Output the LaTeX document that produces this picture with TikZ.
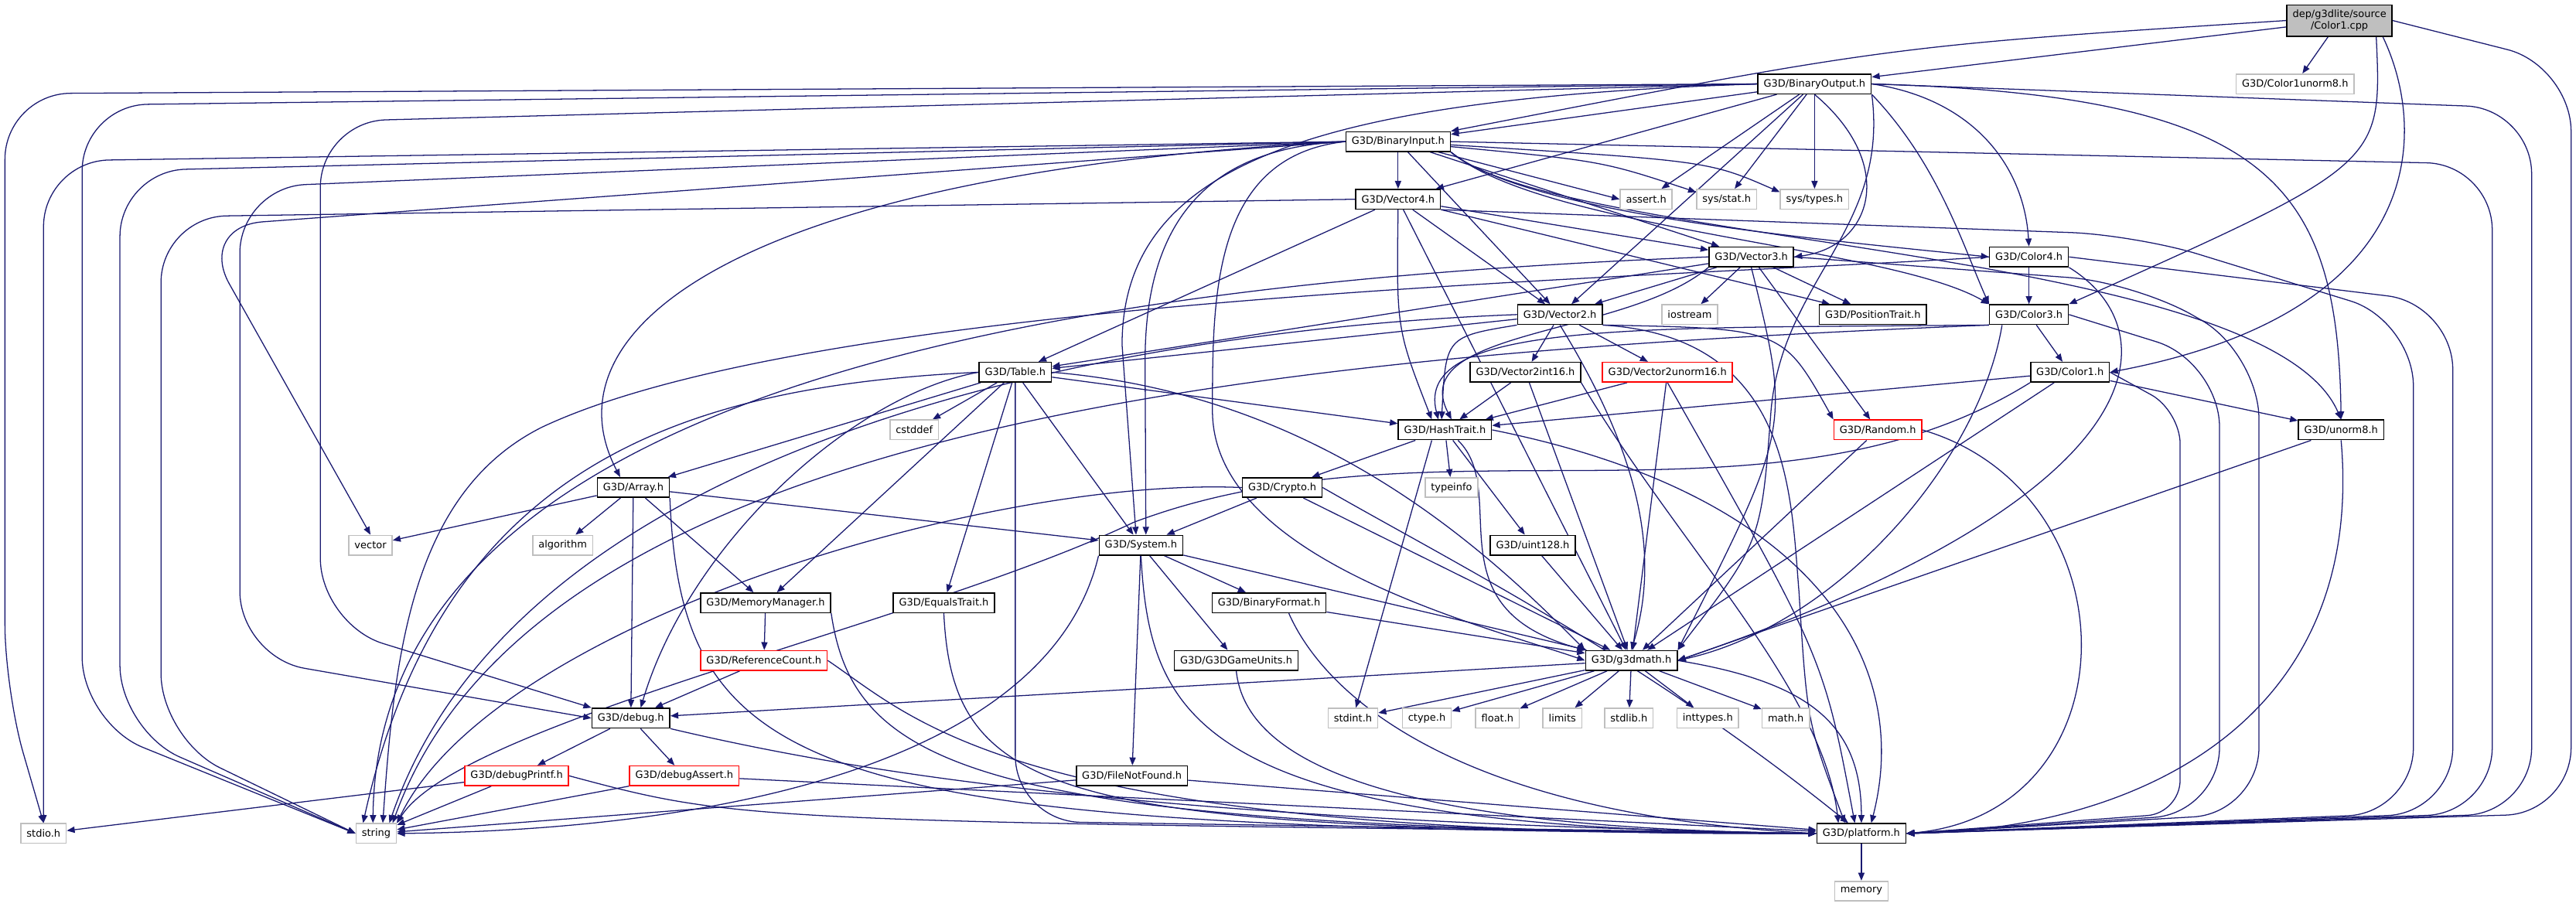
\documentclass[tikz,border=0pt]{standalone}
\usepackage{fontspec}
\newfontfamily\hdrfont{DejaVu Sans}
\usetikzlibrary{arrows.meta}
\definecolor{edgeblue}{HTML}{191970}
\definecolor{boxgray}{HTML}{BFBFBF}
\pgfdeclarelayer{edges}
\pgfsetlayers{edges,main}
\tikzset{
  hdr/.style={draw=black, fill=white, line width=0.75pt, inner xsep=3.5pt, inner ysep=0pt,
    minimum height=12pt, font=\hdrfont\fontsize{6.1pt}{7.2pt}\selectfont},
  syshdr/.style={hdr, draw=boxgray},
  nodoc/.style={hdr, draw=red},
  srcfile/.style={hdr, fill=boxgray, align=center, minimum height=19pt},
  inc/.style={draw=edgeblue, line width=0.6pt, -{Triangle[length=4.8pt,width=3.8pt]}},
  lane/.style={inc, rounded corners=40pt},
}
\begin{document}
\begin{tikzpicture}[x=1pt,y=1pt]
  \useasboundingbox (0,0) rectangle (1568,-551.7);
  % files, one rank after the other
  \node[srcfile] (cpp) at (1424,-12.5) {dep/g3dlite/source\\/Color1.cpp};
  \node[hdr] (bout) at (1104.5,-51.1) {G3D/BinaryOutput.h};
  \node[syshdr] (c1u8) at (1397,-51.1) {G3D/Color1unorm8.h};
  \node[hdr] (bin) at (851,-86.2) {G3D/BinaryInput.h};
  \node[hdr] (vec4) at (851,-121.3) {G3D/Vector4.h};
  \node[syshdr] (assert) at (1002,-121.3) {assert.h};
  \node[syshdr] (sysstat) at (1051,-121.3) {sys/stat.h};
  \node[syshdr] (systypes) at (1104.5,-121.3) {sys/types.h};
  \node[hdr] (vec3) at (1066,-156.4) {G3D/Vector3.h};
  \node[hdr] (col4) at (1235,-156.4) {G3D/Color4.h};
  \node[hdr] (vec2) at (949.5,-191.5) {G3D/Vector2.h};
  \node[syshdr] (iostream) at (1028.5,-191.5) {iostream};
  \node[hdr] (postrait) at (1140,-191.5) {G3D/PositionTrait.h};
  \node[hdr] (col3) at (1235,-191.5) {G3D/Color3.h};
  \node[hdr] (table) at (618,-226.6) {G3D/Table.h};
  \node[hdr] (v2i16) at (928.5,-226.6) {G3D/Vector2int16.h};
  \node[nodoc] (v2u16) at (1015,-226.6) {G3D/Vector2unorm16.h};
  \node[hdr] (col1) at (1260,-226.6) {G3D/Color1.h};
  \node[syshdr] (cstddef) at (556.5,-261.7) {cstddef};
  \node[hdr] (hash) at (879.5,-261.7) {G3D/HashTrait.h};
  \node[nodoc] (random) at (1143,-261.7) {G3D/Random.h};
  \node[hdr] (unorm8) at (1425,-261.7) {G3D/unorm8.h};
  \node[hdr] (array) at (385.5,-296.8) {G3D/Array.h};
  \node[hdr] (crypto) at (780.5,-296.8) {G3D/Crypto.h};
  \node[syshdr] (typeinfo) at (883.5,-296.8) {typeinfo};
  \node[syshdr] (vector) at (225.5,-331.9) {vector};
  \node[syshdr] (algorithm) at (342.5,-331.9) {algorithm};
  \node[hdr] (system) at (694.5,-331.9) {G3D/System.h};
  \node[hdr] (uint128) at (933,-331.9) {G3D/uint128.h};
  \node[hdr] (memmgr) at (466,-367) {G3D/MemoryManager.h};
  \node[hdr] (equals) at (574.5,-367) {G3D/EqualsTrait.h};
  \node[hdr] (binfmt) at (772.5,-367) {G3D/BinaryFormat.h};
  \node[nodoc] (refcount) at (465,-402.1) {G3D/ReferenceCount.h};
  \node[hdr] (units) at (752.5,-402.1) {G3D/G3DGameUnits.h};
  \node[hdr] (g3dmath) at (993,-402.1) {G3D/g3dmath.h};
  \node[hdr] (debug) at (384,-437.2) {G3D/debug.h};
  \node[syshdr] (stdint) at (823.5,-437.2) {stdint.h};
  \node[syshdr] (ctype) at (868.5,-437.2) {ctype.h};
  \node[syshdr] (float) at (911.5,-437.2) {float.h};
  \node[syshdr] (limits) at (951,-437.2) {limits};
  \node[syshdr] (stdlib) at (991.5,-437.2) {stdlib.h};
  \node[syshdr] (inttypes) at (1039.5,-437.2) {inttypes.h};
  \node[syshdr] (math) at (1087,-437.2) {math.h};
  \node[nodoc] (dprintf) at (314.5,-472.3) {G3D/debugPrintf.h};
  \node[nodoc] (dassert) at (416.5,-472.3) {G3D/debugAssert.h};
  \node[hdr] (filenf) at (689,-472.3) {G3D/FileNotFound.h};
  \node[syshdr] (stdio) at (26.5,-507.4) {stdio.h};
  \node[syshdr] (string) at (229,-507.4) {string};
  \node[hdr] (platform) at (1133,-507.4) {G3D/platform.h};
  \node[syshdr] (memory) at (1133,-542.5) {memory};

  \begin{pgfonlayer}{edges}
  % Color1.cpp
  \draw[inc] (cpp) -- (bout);
  \draw[inc] (cpp.west) .. controls (1150,-28) .. (bin.north east);
  \draw[inc] (cpp) -- (c1u8);
  \draw[inc] ([xshift=-10pt]cpp.south east) .. controls (1450,-100) .. (col3.north east);
  \draw[inc] ([xshift=-6pt]cpp.south east) .. controls (1478,-80) and (1478,-190) .. (col1.east);
  \draw[lane] (cpp.east) -- (1565,-40) -- (1565,-495) -- (platform.east);
  % BinaryOutput.h
  \draw[inc] (bout) -- (bin);
  \draw[lane] (bout.west) -- (3,-57) -- (3,-420) -- (stdio.north);
  \draw[lane] (bout.west) -- (50,-64) -- (50,-440) -- (string.west);
  \draw[lane] (bout.west) -- (195,-74) -- (195,-380) -- (debug.north west);
  \draw[inc] (bout.west) .. controls (800,-60) and (683,-100) .. (683,-210) -- ([xshift=-3pt]system.north);
  \draw[inc] (bout) -- (vec4);
  \draw[inc] (bout.south) .. controls (1155,-100) and (1140,-150) .. (vec3.east);
  \draw[inc] (bout) -- (vec2);
  \draw[inc] (bout.east) .. controls (1200,-60) and (1232,-100) .. (col4.north);
  \draw[inc] (bout.south east) .. controls (1180,-100) and (1195,-150) .. (col3.north west);
  \draw[inc] (bout) -- (assert);
  \draw[inc] (bout) -- (sysstat);
  \draw[inc] (bout) -- (systypes);
  \draw[inc] (bout.south east) .. controls (1150,-140) and (1085,-170) .. (1078,-250) .. controls (1072,-330) .. (g3dmath.north east);
  \draw[inc] (bout.east) .. controls (1380,-58) and (1423,-110) .. (unorm8.north);
  \draw[lane] (bout.east) -- (1541,-66) -- (1541,-495) -- (platform.east);
  % BinaryInput.h
  \draw[lane] (bin.west) -- (26.5,-98) -- (stdio.north);
  \draw[lane] (bin.west) -- (73,-104) -- (73,-445) -- (string.west);
  \draw[lane] (bin.west) -- (120,-138) -- (vector.north);
  \draw[lane] (bin.west) -- (146,-114) -- (146,-400) -- (debug.west);
  \draw[inc] (bin.west) .. controls (450,-105) and (330,-200) .. ([xshift=-8pt]array.north);
  \draw[inc] (bin.west) .. controls (730,-90) and (697,-140) .. (697,-220) -- ([xshift=3pt]system.north);
  \draw[inc] (bin.west) .. controls (738,-95) and (738,-180) .. (738,-250) .. controls (738,-340) and (900,-380) .. (g3dmath.west);
  \draw[inc] (bin) -- (vec4);
  \draw[inc] (bin) -- (vec3);
  \draw[inc] (bin) -- (vec2);
  \draw[inc] (bin) -- (assert.west);
  \draw[inc] (bin) .. controls (975,-98) .. ([yshift=-2pt]sysstat.north west);
  \draw[inc] (bin) .. controls (1040,-98) .. ([yshift=-2pt]systypes.north west);
  \draw[inc] (bin.south east) .. controls (930,-130) and (1100,-145) .. (col4.west);
  \draw[inc] (bin.south east) .. controls (940,-140) and (1150,-150) .. (col3.north west);
  \draw[inc] (bin.south east) .. controls (950,-150) and (1380,-150) .. (unorm8.north);
  \draw[lane] (bin.east) -- (1517,-100) -- (1517,-495) -- (platform.east);
  % Vector4.h
  \draw[lane] (vec4.west) -- (98,-132) -- (98,-450) -- (string.west);
  \draw[inc] (vec4) -- (table);
  \draw[inc] (vec4.south) .. controls (850,-200) .. ([xshift=-8pt]hash.north);
  \draw[inc] (vec4) -- (vec2);
  \draw[inc] (vec4) -- (vec3);
  \draw[inc] (vec4) -- (postrait);
  \draw[inc] (vec4) -- (g3dmath);
  \draw[lane] (vec4.south east) -- (1300,-143) -- (1469,-195) -- (1469,-495) -- (platform.east);
  % Vector3.h
  \draw[inc] (vec3) -- (vec2);
  \draw[inc] (vec3) -- (table);
  \draw[inc] (vec3.south west) .. controls (990,-205) and (855,-200) .. ([xshift=4pt]hash.north);
  \draw[inc] (vec3) -- (iostream);
  \draw[inc] (vec3) -- (postrait);
  \draw[inc] (vec3) -- (random);
  \draw[inc] (vec3.south) .. controls (1090,-260) .. (g3dmath.north east);
  \draw[lane] (vec3.east) -- (1300,-172) -- (1375,-215) -- (1375,-495) -- (platform.east);
  \draw[inc] (vec3.west) .. controls (700,-170) and (230,-220) .. ([xshift=-2pt]string.north);
  % Color4.h
  \draw[inc] (col4) -- (col3);
  \draw[inc] (col4.south east) .. controls (1320,-200) and (1320,-300) .. (g3dmath.east);
  \draw[lane] (col4.east) -- (1493,-185) -- (1493,-495) -- (platform.east);
  \draw[inc] (col4.west) .. controls (1000,-170) and (500,-180) .. (330,-260) .. controls (250,-300) and (240,-400) .. ([xshift=4pt]string.north);
  % Vector2.h
  \draw[inc] (vec2) -- (table);
  \draw[inc] (vec2.south west) .. controls (880,-205) .. ([xshift=-2pt]hash.north);
  \draw[inc] (vec2) -- (v2i16);
  \draw[inc] (vec2) -- (v2u16);
  \draw[inc] (vec2.south east) .. controls (1085,-200) .. (random.north west);
  \draw[inc] (vec2.south) .. controls (1000,-280) and (1010,-340) .. (g3dmath.north);
  \draw[inc] (vec2.south east) .. controls (1090,-205) and (1090,-300) .. (1095,-360) .. controls (1100,-440) .. ([xshift=-10pt]platform.north);
  \draw[inc] (vec2.west) .. controls (700,-200) and (320,-260) .. ([xshift=8pt]string.north);
  % Color3.h
  \draw[inc] (col3) -- (col1);
  \draw[inc] (col3.south west) .. controls (1000,-200) and (860,-195) .. ([xshift=-4pt]hash.north);
  \draw[inc] ([xshift=8pt]col3.south west) .. controls (1205,-280) and (1120,-380) .. (g3dmath.east);
  \draw[lane] (col3.east) -- (1351,-220) -- (1351,-495) -- (platform.east);
  \draw[inc] (col3.south west) .. controls (800,-215) and (330,-250) .. ([xshift=10pt]string.north);
  % Table.h
  \draw[inc] (table) -- (array);
  \draw[inc] (table) -- (cstddef);
  \draw[inc] (table) -- (system);
  \draw[inc] (table) -- (hash);
  \draw[inc] (table) -- (equals);
  \draw[inc] (table) -- (memmgr);
  \draw[inc] (table.west) .. controls (520,-240) and (420,-330) .. ([xshift=6pt]debug.north);
  \draw[inc] (table.east) .. controls (800,-240) and (900,-330) .. (g3dmath.north west);
  \draw[lane] (table.south) -- (618,-500) -- (platform.west);
  \draw[inc] (table.west) .. controls (420,-235) and (270,-280) .. ([xshift=-8pt]string.north);
  % Vector2int16.h, Vector2unorm16.h
  \draw[inc] (v2i16) -- (hash);
  \draw[inc] (v2i16) -- (g3dmath);
  \draw[inc] (v2i16.south east) .. controls (1020,-330) and (1110,-420) .. ([xshift=-14pt]platform.north);
  \draw[inc] (v2u16) -- (hash);
  \draw[inc] (v2u16) -- (g3dmath);
  \draw[inc] (v2u16.south) .. controls (1110,-400) .. ([xshift=-4pt]platform.north);
  % Color1.h
  \draw[inc] (col1) -- (hash);
  \draw[inc] (col1) -- (unorm8);
  \draw[inc] (col1) -- (g3dmath);
  \draw[inc, rounded corners=20pt] (col1.east) -- (1327,-250) -- (1327,-495) -- (platform.east);
  \draw[inc] (col1.south west) .. controls (1080,-330) and (870,-250) .. (690,-318) .. controls (560,-380) and (280,-440) .. (string.north east);
  % HashTrait.h
  \draw[inc] (hash) -- (crypto);
  \draw[inc] (hash) -- (typeinfo);
  \draw[inc] (hash) -- (uint128);
  \draw[inc] ([xshift=8pt]hash.south) .. controls (920,-300) and (870,-370) .. (g3dmath.north west);
  \draw[inc] ([xshift=-8pt]hash.south) -- (stdint);
  \draw[inc] (hash.east) .. controls (1100,-300) and (1165,-400) .. ([xshift=6pt]platform.north);
  % Random.h, unorm8.h
  \draw[inc] (random) -- (g3dmath);
  \draw[inc] (random.east) .. controls (1300,-300) and (1300,-495) .. (platform.east);
  \draw[inc] (unorm8) -- (g3dmath.east);
  \draw[inc] (unorm8.south) .. controls (1440,-440) and (1300,-505) .. (platform.east);
  % Array.h
  \draw[inc] (array) -- (vector);
  \draw[inc] (array) -- (algorithm);
  \draw[inc] (array) -- (system);
  \draw[inc] (array) -- (memmgr);
  \draw[inc] (array) -- (debug);
  \draw[inc] (array.south east) .. controls (415,-480) and (500,-505) .. (platform.west);
  % Crypto.h
  \draw[inc] (crypto) -- (system);
  \draw[inc] (crypto) -- (g3dmath);
  \draw[inc] (crypto.east) .. controls (880,-340) and (1000,-400) .. ([xshift=-8pt]platform.north);
  \draw[inc] (crypto.west) .. controls (600,-290) and (300,-380) .. (string.north east);
  % System.h
  \draw[inc] (system) -- (binfmt);
  \draw[inc] (system) -- (units);
  \draw[inc] (system) -- (filenf);
  \draw[inc] (system) -- (g3dmath);
  \draw[inc] (system.south) .. controls (700,-440) and (730,-505) .. (platform.west);
  \draw[inc] (system.south west) .. controls (640,-460) and (450,-505) .. (string.east);
  \draw[inc] (uint128) -- (g3dmath);
  % MemoryManager.h, EqualsTrait.h, BinaryFormat.h
  \draw[inc] (memmgr) -- (refcount);
  \draw[inc] (memmgr.south east) .. controls (520,-470) and (600,-505) .. (platform.west);
  \draw[inc] (equals.south) .. controls (580,-490) and (650,-505) .. (platform.west);
  \draw[inc] (binfmt) -- (g3dmath);
  \draw[inc] ([xshift=12pt]binfmt.south) .. controls (805,-420) and (880,-495) .. (platform.west);
  % ReferenceCount.h, G3DGameUnits.h
  \draw[inc] (refcount) -- (debug);
  \draw[inc] (refcount.east) .. controls (560,-440) and (620,-510) .. (platform.west);
  \draw[inc] (units.south) .. controls (760,-480) and (900,-505) .. (platform.west);
  % g3dmath.h
  \draw[inc] (g3dmath) -- (stdint);
  \draw[inc] (g3dmath) -- (ctype);
  \draw[inc] (g3dmath) -- (float);
  \draw[inc] (g3dmath) -- (limits);
  \draw[inc] (g3dmath) -- (stdlib);
  \draw[inc] (g3dmath) -- (inttypes);
  \draw[inc] (g3dmath) -- (math);
  \draw[inc] (g3dmath) -- (debug);
  \draw[inc] (g3dmath.east) .. controls (1100,-415) and (1133,-440) .. (platform.north);
  % debug.h and below
  \draw[inc] (debug) -- (dprintf);
  \draw[inc] (debug) -- (dassert);
  \draw[inc] (debug.south east) .. controls (520,-470) and (700,-500) .. (platform.west);
  \draw[inc] (dprintf) -- (stdio);
  \draw[inc] (dprintf) -- (string);
  \draw[inc] (dprintf.east) .. controls (450,-500) .. (platform.west);
  \draw[inc] (dassert) -- (string);
  \draw[inc] (dassert) -- (platform);
  \draw[inc] (filenf) -- (string);
  \draw[inc] (filenf) -- (platform);
  \draw[inc] (platform) -- (memory);
  \end{pgfonlayer}
\end{tikzpicture}
\end{document}
